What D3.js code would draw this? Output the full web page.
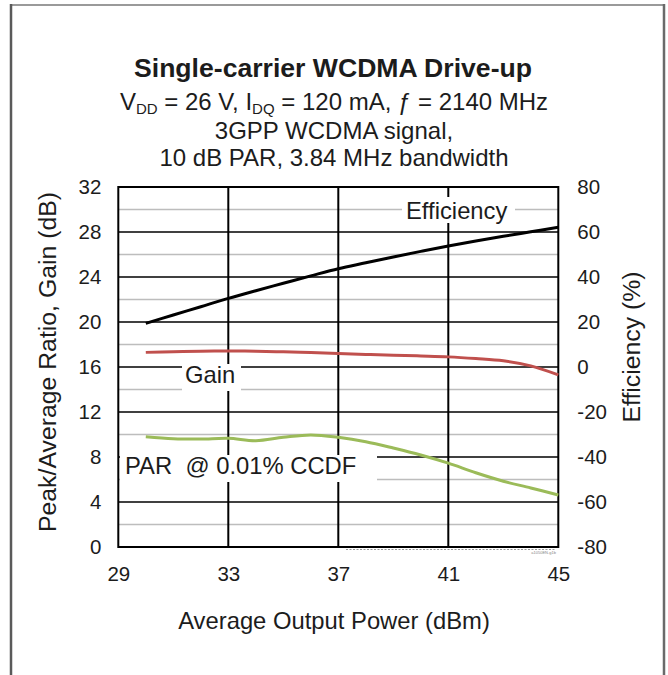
<!DOCTYPE html>
<html lang="en">
	<head>
		<meta charset="utf-8">
		<title>Single-carrier WCDMA Drive-up</title>
		<script type="text/javascript" src="https://cdn.jsdelivr.net/npm/d3@7/dist/d3.min.js"></script>
		<style>
			body { margin: 0; background: #fff; }
			text { font-family: "Liberation Sans", Arial, sans-serif; fill: #1c1c1c; }
		</style>
	</head>
	<body>
		<script type="text/javascript">

			// values
			var power = [30, 31, 32, 33, 34, 35, 36, 37, 38, 39, 40, 41, 42, 43, 44, 45]
			var efficiency = [19.4, 23.1, 26.8, 30.5, 33.9, 37.2, 40.5, 43.7, 46.3, 48.9, 51.4, 53.8, 56.0, 58.1, 60.1, 62.1]
			var gain = [17.3, 17.36, 17.4, 17.42, 17.4, 17.35, 17.28, 17.2, 17.12, 17.05, 16.98, 16.9, 16.75, 16.55, 16.1, 15.3]
			var par = [9.8, 9.63, 9.6, 9.66, 9.45, 9.75, 9.96, 9.75, 9.36, 8.8, 8.18, 7.45, 6.6, 5.85, 5.25, 4.62]

			var xTicks = [29, 33, 37, 41, 45]
			var leftTicks = [0, 4, 8, 12, 16, 20, 24, 28, 32]
			var leftMinor = [2, 6, 10, 14, 18, 22, 26, 30]
			var rightTicks = [-80, -60, -40, -20, 0, 20, 40, 60, 80]

			var width = 668
			var height = 675
			var plot = { left: 118.3, right: 558.3, top: 187, bottom: 547 }

			var svg = d3.select("body")
				.append("svg")
					.attr("width", width)
					.attr("height", height)

			var x = d3.scaleLinear().domain([29, 45]).range([plot.left, plot.right])
			var yL = d3.scaleLinear().domain([0, 32]).range([plot.bottom, plot.top])
			var yR = d3.scaleLinear().domain([-80, 80]).range([plot.bottom, plot.top])

			// outer frame (open at the bottom)
			svg.append("line")
					.attr("x1", 11).attr("x2", 664).attr("y1", 5).attr("y2", 5)
					.attr("stroke", "#9a9a9a").attr("stroke-width", 2)
			svg.append("line")
					.attr("x1", 11).attr("x2", 11).attr("y1", 4).attr("y2", height)
					.attr("stroke", "#5a5a5a").attr("stroke-width", 2.5)
			svg.append("line")
					.attr("x1", 664).attr("x2", 664).attr("y1", 4).attr("y2", height)
					.attr("stroke", "#6a6a6a").attr("stroke-width", 2.5)

			// titles
			var title = svg.append("g").attr("text-anchor", "middle")
			title.append("text")
					.attr("x", 333).attr("y", 77)
					.attr("font-size", 26.6).attr("font-weight", "bold")
					.text("Single-carrier WCDMA Drive-up")
			var sub = title.append("text")
					.attr("x", 334).attr("y", 110)
					.attr("font-size", 24)
			sub.append("tspan").text("V")
			sub.append("tspan").attr("font-size", 15).attr("dy", 4).text("DD")
			sub.append("tspan").attr("dy", -4).text(" = 26 V, I")
			sub.append("tspan").attr("font-size", 15).attr("dy", 4).text("DQ")
			sub.append("tspan").attr("dy", -4).text(" = 120 mA, ")
			sub.append("tspan").text("\u0192")
			sub.append("tspan").text(" = 2140 MHz")
			title.append("text")
					.attr("x", 334).attr("y", 139)
					.attr("font-size", 24)
					.text("3GPP WCDMA signal,")
			title.append("text")
					.attr("x", 334).attr("y", 166)
					.attr("font-size", 24)
					.text("10 dB PAR, 3.84 MHz bandwidth")

			// grid
			svg.append("g")
					.attr("stroke", "#bdbdbd")
					.attr("stroke-width", 1.4)
				.selectAll("line")
				.data(leftMinor)
				.enter().append("line")
					.attr("x1", plot.left).attr("x2", plot.right)
					.attr("y1", d => yL(d)).attr("y2", d => yL(d))

			svg.append("g")
					.attr("stroke", "#000")
					.attr("stroke-width", 1.4)
				.selectAll("line")
				.data(leftTicks.slice(1, -1))
				.enter().append("line")
					.attr("x1", plot.left).attr("x2", plot.right)
					.attr("y1", d => yL(d)).attr("y2", d => yL(d))

			svg.append("g")
					.attr("stroke", "#000")
					.attr("stroke-width", 2)
				.selectAll("line")
				.data(xTicks.slice(1, -1))
				.enter().append("line")
					.attr("x1", d => x(d)).attr("x2", d => x(d))
					.attr("y1", plot.top).attr("y2", plot.bottom)

			// white boxes behind the curve labels
			var labels = [
				{ text: "Efficiency", x: 406, y: 219, box: [402, 197, 113, 26] },
				{ text: "Gain", x: 185, y: 382.5, box: [182, 364, 59, 27] },
				{ text: "PAR  @ 0.01% CCDF", x: 125, y: 474, box: [120, 455, 257, 27] }
			]
			svg.append("g")
				.selectAll("rect")
				.data(labels)
				.enter().append("rect")
					.attr("x", d => d.box[0]).attr("y", d => d.box[1])
					.attr("width", d => d.box[2]).attr("height", d => d.box[3])
					.attr("fill", "#fff")
			svg.append("g")
				.selectAll("text")
				.data(labels)
				.enter().append("text")
					.attr("x", d => d.x).attr("y", d => d.y)
					.attr("font-size", 23.8)
					.style("white-space", "pre")
					.text(d => d.text)

			// plot border
			svg.append("rect")
					.attr("x", plot.left).attr("y", plot.top)
					.attr("width", plot.right - plot.left).attr("height", plot.bottom - plot.top)
					.attr("fill", "none").attr("stroke", "#000").attr("stroke-width", 2)
			svg.append("line")
					.attr("x1", 346).attr("x2", 556).attr("y1", 549.5).attr("y2", 549.5)
					.attr("stroke", "#999").attr("stroke-width", 1).attr("stroke-dasharray", "2,1.5")
			svg.append("text")
					.attr("x", 556).attr("y", 553.5)
					.attr("text-anchor", "end")
					.attr("font-size", 4)
					.style("fill", "#888")
					.text("a1050EN-g1b")

			// curves
			var lineL = d3.line().x((d, i) => x(power[i])).y(d => yL(d)).curve(d3.curveCatmullRom)
			var lineR = d3.line().x((d, i) => x(power[i])).y(d => yR(d)).curve(d3.curveCatmullRom)

			svg.append("path").datum(par)
					.attr("d", lineL)
					.attr("fill", "none").attr("stroke", "#9bbb59").attr("stroke-width", 3)
			svg.append("path").datum(gain)
					.attr("d", lineL)
					.attr("fill", "none").attr("stroke", "#c0504d").attr("stroke-width", 3)
			svg.append("path").datum(efficiency)
					.attr("d", lineR)
					.attr("fill", "none").attr("stroke", "#000").attr("stroke-width", 3)

			// axes (labels only, the grid draws the lines)
			var axisStyle = function(g) {
				g.select(".domain").remove()
				g.selectAll("text").attr("font-size", 20.5).style("fill", "#1c1c1c").attr("font-family", null)
			}
			svg.append("g")
					.attr("transform", "translate(" + plot.left + ",0)")
					.call(d3.axisLeft(yL).tickValues(leftTicks).tickFormat(d => String(d)).tickSize(0).tickPadding(17))
					.call(axisStyle)
			svg.append("g")
					.attr("transform", "translate(" + plot.right + ",0)")
					.call(d3.axisRight(yR).tickValues(rightTicks).tickFormat(d => String(d)).tickSize(0).tickPadding(19))
					.call(axisStyle)
			svg.append("g")
					.attr("transform", "translate(0," + plot.bottom + ")")
					.call(d3.axisBottom(x).tickValues(xTicks).tickFormat(d => String(d)).tickSize(0).tickPadding(19))
					.call(axisStyle)

			// axis titles
			svg.append("text")
					.attr("transform", "translate(56,362) rotate(-90)")
					.attr("text-anchor", "middle")
					.attr("font-size", 24.8)
					.text("Peak/Average Ratio, Gain (dB)")
			svg.append("text")
					.attr("transform", "translate(640,347) rotate(-90)")
					.attr("text-anchor", "middle")
					.attr("font-size", 24.8)
					.text("Efficiency (%)")
			svg.append("text")
					.attr("x", 334).attr("y", 629)
					.attr("text-anchor", "middle")
					.attr("font-size", 23.8)
					.text("Average Output Power (dBm)")

		</script>
	</body>
</html>
